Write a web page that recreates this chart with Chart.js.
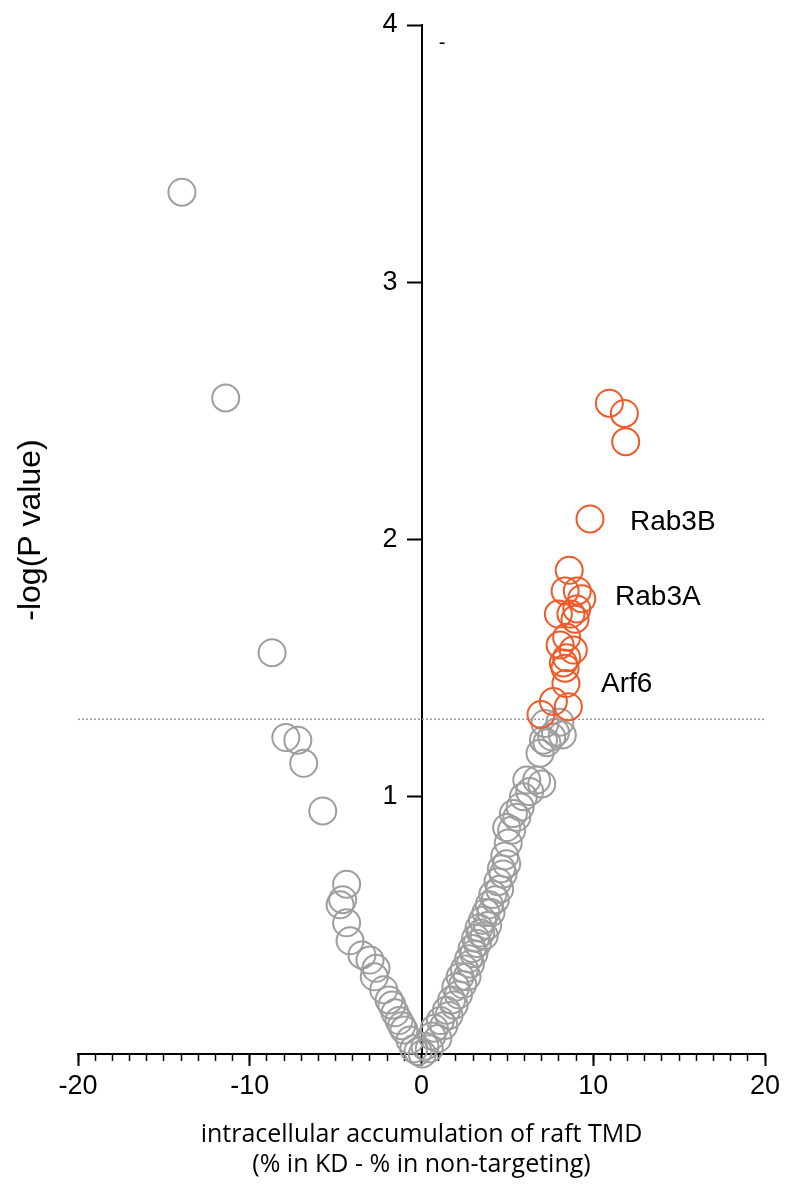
<!DOCTYPE html>
<html lang="en">
<head>
  <meta charset="UTF-8">
  <title>volcano plot</title>
  <script src="https://cdn.jsdelivr.net/npm/chart.js"></script>
  <style>
    body { margin: 0; background: #fff; }
    #wrap { width: 785px; height: 1184px; }
  </style>
</head>
<body>
  <div id="wrap"><canvas id="myChart"></canvas></div>

<script>
  // hits (orange)
  const hitX = [10.94, 11.81, 11.89, 9.81, 8.6, 8.36, 9.07, 9.33, 9.04, 7.97, 8.7, 8.94, 8.45, 8.07, 8.84, 8.45, 8.26, 8.36, 8.41, 7.68, 6.96, 8.55];
  const hitY = [2.53, 2.49, 2.38, 2.08, 1.88, 1.80, 1.80, 1.77, 1.73, 1.71, 1.71, 1.69, 1.62, 1.59, 1.57, 1.54, 1.52, 1.50, 1.44, 1.37, 1.32, 1.35];

  // everything else (gray), left arm then right arm
  const otherX = [-13.95, -11.4, -8.7, -7.9, -7.2, -6.86, -5.75, -4.36, -4.59, -4.74, -4.36, -4.16, -3.47, -3.0, -2.65, -2.75, -2.2, -1.89, -1.72, -1.54, -1.31, -1.15, -1.02, -0.67, -0.45, -0.2,
    0.05, 0.2, 0.45, 0.6, 0.75, 0.95, 1.1, 1.3, 1.45, 1.6, 1.75, 1.9, 2.0, 2.15, 2.25, 2.4, 2.5, 2.65, 2.75, 2.85, 2.95, 3.05, 3.15, 3.25, 3.35, 3.45, 3.55, 3.65, 3.75, 3.85, 3.95, 4.05, 4.15, 4.3, 4.45, 4.55, 4.65, 4.75, 4.85, 4.96, 5.05, 4.96, 5.25, 5.35, 5.55, 5.75, 5.93, 6.13, 6.3, 6.7, 6.9, 7.0, 7.19, 7.58, 8.06, 7.3, 7.8, 8.2, 7.1];
  const otherY = [3.35, 2.55, 1.56, 1.23, 1.22, 1.13, 0.945, 0.66, 0.60, 0.58, 0.51, 0.44, 0.385, 0.365, 0.333, 0.30, 0.25, 0.21, 0.19, 0.16, 0.13, 0.11, 0.093, 0.054, 0.02, 0.01,
    0.0, 0.03, 0.02, 0.07, 0.1, 0.06, 0.13, 0.11, 0.17, 0.15, 0.21, 0.19, 0.26, 0.23, 0.3, 0.27, 0.33, 0.3, 0.37, 0.35, 0.41, 0.39, 0.45, 0.43, 0.49, 0.47, 0.52, 0.46, 0.55, 0.5, 0.58, 0.55, 0.62, 0.6, 0.67, 0.64, 0.72, 0.7, 0.77, 0.74, 0.82, 0.88, 0.87, 0.935, 0.92, 0.96, 1.0, 1.065, 1.02, 1.065, 1.169, 1.05, 1.285, 1.233, 1.29, 1.21, 1.25, 1.24, 1.22];

  const threshold = 1.301; // -log(0.05)

  const xTicks = [-20, -10, 0, 10, 20];
  const yTicks = [1, 2, 3, 4];

  const noteText = ['Rab3B', 'Rab3A', 'Arf6', '-'];
  const noteX = [12.14, 11.27, 10.45, 1.0];
  const noteY = [2.068, 1.776, 1.438, 3.93];

  const toPoints = (xs, ys) => xs.map((x, i) => ({ x: x, y: ys[i] }));

  const notes = {
    id: 'notes',
    afterDraw(chart) {
      const { ctx, scales } = chart;
      ctx.save();
      ctx.fillStyle = '#000';
      ctx.textBaseline = 'middle';

      // y tick labels: the centred axis puts them on the line, so draw them left of the ticks
      const axisX = scales.x.getPixelForValue(0);
      ctx.textAlign = 'right';
      ctx.font = '27px "Liberation Sans"';
      scales.y.ticks.forEach(t => {
        ctx.fillText(String(t.value), axisX - 24, scales.y.getPixelForValue(t.value));
      });

      ctx.textAlign = 'left';
      noteText.forEach((t, i) => {
        ctx.font = t === '-' ? '20px "Liberation Sans"' : '28px "Liberation Sans"';
        ctx.fillText(t, scales.x.getPixelForValue(noteX[i]), scales.y.getPixelForValue(noteY[i]));
      });

      // y title sits at the far left
      ctx.translate(31, 530);
      ctx.rotate(-Math.PI / 2);
      ctx.textAlign = 'center';
      ctx.font = '32px "Liberation Sans"';
      ctx.fillText('-log(P value)', 0, 0);
      ctx.restore();
    }
  };

  const ctx = document.getElementById('myChart');
  const myChart = new Chart(ctx, {
    type: 'scatter',
    data: {
      datasets: [
        {
          label: 'hits',
          data: toPoints(hitX, hitY),
          borderColor: '#ef5a28',
          backgroundColor: 'rgba(0,0,0,0)',
          pointRadius: 13.5,
          borderWidth: 2,
          clip: false,
          order: 0
        },
        {
          label: 'other',
          data: toPoints(otherX, otherY),
          borderColor: '#9e9e9e',
          backgroundColor: 'rgba(0,0,0,0)',
          pointRadius: 13.5,
          borderWidth: 2,
          clip: false,
          order: 1
        },
        {
          type: 'line',
          label: 'p = 0.05',
          data: [{ x: -20, y: threshold }, { x: 20, y: threshold }],
          borderColor: '#9a9a9a',
          borderWidth: 1.5,
          borderDash: [2, 2],
          pointRadius: 0,
          order: 2
        }
      ]
    },
    options: {
      responsive: true,
      maintainAspectRatio: false,
      animation: false,
      layout: { padding: { left: 78, right: 20, top: 25, bottom: 0 } },
      plugins: { legend: { display: false }, tooltip: { enabled: false } },
      scales: {
        x: {
          type: 'linear',
          position: 'bottom',
          min: -20,
          max: 20,
          afterBuildTicks: (s) => { s.ticks = xTicks.map(v => ({ value: v })); },
          afterFit: (s) => { s.height = 130; },
          ticks: { color: '#000', padding: 4, font: { family: 'Liberation Sans', size: 27 } },
          grid: { drawOnChartArea: false, tickLength: 12, tickWidth: 2, tickColor: '#000' },
          border: { color: '#000', width: 2 },
          title: {
            display: true,
            text: ['intracellular accumulation of raft TMD', '(% in KD - % in non-targeting)'],
            color: '#000',
            font: { family: 'Open Sans', size: 25, lineHeight: 1.2 },
            padding: { top: 0, bottom: 4 }
          }
        },
        xMinor: {
          type: 'linear',
          axis: 'x',
          position: { y: 0 },
          min: -20,
          max: 20,
          ticks: { display: false, stepSize: 1, autoSkip: false },
          grid: { drawOnChartArea: false, tickLength: 7, tickWidth: 1.5, tickColor: '#000' },
          border: { display: false }
        },
        y: {
          type: 'linear',
          position: { x: 0 },
          min: 0,
          max: 4,
          afterBuildTicks: (s) => { s.ticks = yTicks.map(v => ({ value: v })); },
          ticks: { display: false },
          grid: { drawOnChartArea: false, tickLength: 14, tickWidth: 2, tickColor: '#000' },
          border: { color: '#000', width: 2 }
        }
      }
    },
    plugins: [notes]
  });
</script>
</body>
</html>
